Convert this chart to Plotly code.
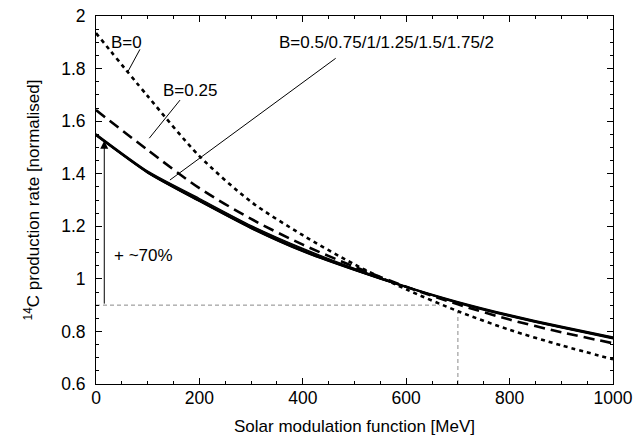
import plotly.graph_objects as go

# Solar modulation function [MeV]
phi = [0, 100, 200, 300, 400, 500, 600, 700, 800, 900, 1000]

# B = 0 (dotted)
b0 = [1.935, 1.695, 1.467, 1.293, 1.166, 1.055, 0.960, 0.877, 0.806, 0.747, 0.694]
# B = 0.25 (dashed)
b025 = [1.642, 1.490, 1.345, 1.228, 1.130, 1.046, 0.970, 0.903, 0.845, 0.797, 0.755]
# B = 0.5 ... 2 (solid)
b050 = [1.552, 1.410, 1.306, 1.203, 1.116, 1.040, 0.972, 0.914, 0.864, 0.820, 0.779]
b075 = [1.550, 1.408, 1.303, 1.201, 1.113, 1.038, 0.971, 0.912, 0.862, 0.818, 0.777]
b100 = [1.548, 1.406, 1.300, 1.198, 1.110, 1.036, 0.970, 0.911, 0.861, 0.817, 0.776]
b125 = [1.547, 1.405, 1.298, 1.196, 1.108, 1.035, 0.969, 0.910, 0.860, 0.816, 0.775]
b150 = [1.546, 1.404, 1.296, 1.194, 1.106, 1.034, 0.968, 0.909, 0.859, 0.815, 0.774]
b175 = [1.545, 1.403, 1.295, 1.192, 1.104, 1.033, 0.968, 0.908, 0.858, 0.814, 0.773]
b200 = [1.544, 1.402, 1.294, 1.191, 1.103, 1.032, 0.967, 0.907, 0.857, 0.813, 0.772]
solid_series = [b050, b075, b100, b125, b150, b175, b200]

x_ticks = [0, 200, 400, 600, 800, 1000]
y_ticks = [0.6, 0.8, 1, 1.2, 1.4, 1.6, 1.8, 2]
y_tick_labels = ["0.6", "0.8", "1", "1.2", "1.4", "1.6", "1.8", "2"]

FONT = "Liberation Sans, Arial, Helvetica, sans-serif"

fig = go.Figure()

# grey reference lines
fig.add_trace(go.Scatter(x=[0, 665], y=[0.9, 0.9], mode="lines",
                         line=dict(color="#8a8a8a", width=1, dash="4px,3px"),
                         hoverinfo="skip", showlegend=False))
fig.add_trace(go.Scatter(x=[700, 700], y=[0.6, 0.875], mode="lines",
                         line=dict(color="#8a8a8a", width=1, dash="4px,3px"),
                         hoverinfo="skip", showlegend=False))

fig.add_trace(go.Scatter(x=phi, y=b0, mode="lines",
                         line=dict(color="black", width=2.6, dash="4px,4px",
                                   shape="spline", smoothing=0.8),
                         showlegend=False))
fig.add_trace(go.Scatter(x=phi, y=b025, mode="lines",
                         line=dict(color="black", width=2.6, dash="11px,6px",
                                   shape="spline", smoothing=0.8),
                         showlegend=False))
for s in solid_series:
    fig.add_trace(go.Scatter(x=phi, y=s, mode="lines",
                             line=dict(color="black", width=1.2, shape="spline", smoothing=0.6),
                             showlegend=False))

# leader lines
def leader(x0, y0, x1, y1):
    fig.add_shape(type="line", x0=x0, y0=y0, x1=x1, y1=y1, xref="x", yref="y",
                  line=dict(color="black", width=1))

leader(85, 1.873, 60.5, 1.784)
leader(162.5, 1.680, 103, 1.535)
leader(463.6, 1.839, 143, 1.376)

ANN = 17
fig.add_annotation(x=59, y=1.90, text="B=0", showarrow=False,
                   font=dict(family=FONT, size=ANN, color="black"))
fig.add_annotation(x=181, y=1.716, text="B=0.25", showarrow=False,
                   font=dict(family=FONT, size=ANN, color="black"))
fig.add_annotation(x=561, y=1.90, text="B=0.5/0.75/1/1.25/1.5/1.75/2", showarrow=False,
                   font=dict(family=FONT, size=ANN, color="black"))
fig.add_annotation(x=91, y=1.087, text="+ ~70%", showarrow=False,
                   font=dict(family=FONT, size=ANN, color="black"))
# +70% arrow
fig.add_annotation(x=16, y=1.525, ax=16, ay=0.9, xref="x", yref="y", axref="x", ayref="y",
                   text="", showarrow=True, arrowhead=2, arrowsize=1.6, arrowwidth=1,
                   arrowcolor="black")

axis_common = dict(showgrid=False, zeroline=False, showline=True, linecolor="black",
                   linewidth=1, mirror="allticks", ticks="inside", ticklen=6,
                   tickcolor="black", tickwidth=1, automargin=False,
                   tickfont=dict(family=FONT, size=17.5, color="black"))

fig.update_xaxes(range=[0, 1000], tickvals=x_ticks, ticklabelstandoff=-2,
                 minor=dict(dtick=50, ticks="inside", ticklen=3, tickcolor="black", showgrid=False),
                 title=dict(text="Solar modulation function [MeV]",
                            font=dict(family=FONT, size=17, color="black"), standoff=14),
                 **axis_common)
fig.update_yaxes(range=[0.6, 2], tickvals=y_ticks, ticktext=y_tick_labels, ticklabelstandoff=6,
                 minor=dict(dtick=0.05, ticks="inside", ticklen=3, tickcolor="black", showgrid=False),
                 title=dict(text="<sup>14</sup>C production rate [normalised]",
                            font=dict(family=FONT, size=17, color="black"), standoff=17),
                 **axis_common)

fig.update_layout(width=644, height=436, plot_bgcolor="white", paper_bgcolor="white",
                  margin=dict(l=96, r=31, t=16, b=52), showlegend=False)

fig.write_html("out.html")
